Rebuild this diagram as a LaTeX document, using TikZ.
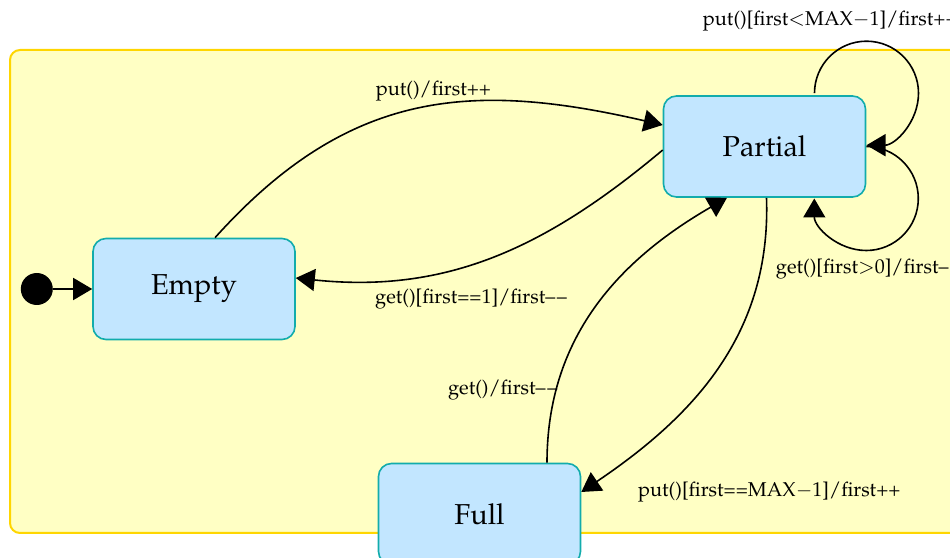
\documentclass[tikz,border=0pt]{standalone}
\usepackage[T1]{fontenc}
\usepackage{mathpazo}
\usetikzlibrary{arrows.meta,positioning}
\definecolor{stateFill}{RGB}{194,230,255}
\definecolor{stateLine}{RGB}{18,172,172}
\definecolor{regionFill}{RGB}{255,255,196}
\definecolor{regionLine}{RGB}{255,214,0}
\newcommand{\decr}{--\kern0.8pt--}

\begin{document}
\begin{tikzpicture}[
	x=0.5pt, y=0.5pt,
	statenode/.style={rectangle, rounded corners=6.5pt, draw=stateLine, fill=stateFill, thick, minimum width=101pt, minimum height=50.5pt, font=\Large},
	initnode/.style={circle, fill=black, minimum size=16pt, inner sep=0pt},
	trans/.style={-{Triangle[length=9.5pt,width=11pt]}, line width=0.8pt},
	lbl/.style={font=\normalsize, inner sep=2pt}
	]
	\useasboundingbox (0,0) rectangle (950,558);
	% Region
	\draw[regionLine, fill=regionFill, line width=1pt, rounded corners=5pt] (10,25) rectangle (990,508);
	%Nodes
	\node[statenode](Empty) at (194,269) {Empty};
	\node[statenode](Partial) at (764.5,411.5) {Partial};
	\node[statenode](Full) at (479.5,44) {Full};
	\node[initnode](Init)[left=19.5pt of Empty] {};
	%Lines
	\draw[trans] (Init) -- (Empty);
	\draw[trans] ([xshift=10.5pt]Empty.north) to[out=48,in=167,looseness=1.1] node[lbl, pos=0.54, above=0pt]{put()/first++} ([yshift=10.75pt]Partial.west);
	\draw[trans] ([yshift=-1.75pt]Partial.west) to[out=220,in=-6] node[lbl, pos=0.56, below=10pt]{get()[first==1]/first\decr} ([yshift=5.5pt]Empty.east);
	% self loops
	\draw[trans] ([xshift=25pt,yshift=1pt]Partial.north) arc[start angle=180, end angle=-90, radius=26pt];
	\node[lbl, anchor=west] (PutLoop) at ([xshift=-33pt,yshift=37pt]Partial.north) {put()[first$<$MAX$-$1]/first++};
	\draw[trans] (Partial.east) arc[start angle=90, end angle=-180, radius=26pt];
	\node[lbl, anchor=west] (GetLoop) at ([xshift=3.5pt,yshift=-35.5pt]Partial.south) {get()[first$>$0]/first\decr};
	% full
	\draw[trans] ([xshift=33.75pt]Full.north) to[out=90,in=210] node[lbl, pos=0.21, left=-3pt]{get()/first\decr} ([xshift=-18.75pt]Partial.south);
	\draw[trans] ([xshift=1pt]Partial.south) to[out=-88,in=34] node[lbl, pos=0.97, below right=-4pt and 21pt]{put()[first==MAX$-$1]/first++} ([yshift=11pt]Full.east);
\end{tikzpicture}
\end{document}
